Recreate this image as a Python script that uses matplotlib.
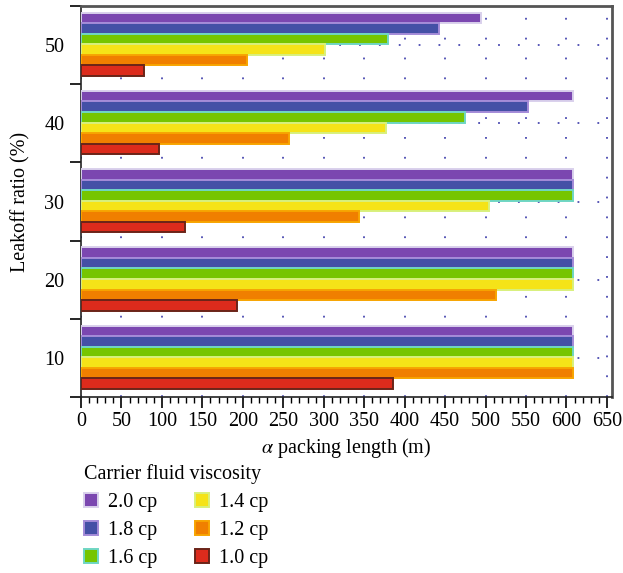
import numpy as np
import matplotlib
matplotlib.use('Agg')
import matplotlib.pyplot as plt
from matplotlib.ticker import MultipleLocator

plt.rcParams['font.family'] = 'Liberation Serif'
plt.rcParams['mathtext.fontset'] = 'stix'

# data
leakoff = [10, 20, 30, 40, 50]
viscosity = ['2.0 cp', '1.8 cp', '1.6 cp', '1.4 cp', '1.2 cp', '1.0 cp']
len_20 = [608, 608, 608, 608, 494]
len_18 = [608, 608, 608, 553, 443]
len_16 = [608, 608, 608, 475, 380]
len_14 = [608, 608, 504, 377, 302]
len_12 = [608, 513, 343, 257, 205]
len_10 = [385, 193, 129, 96, 78]

series = [len_20, len_18, len_16, len_14, len_12, len_10]
fill_colors = ['#7b47b0', '#4450a6', '#76c500', '#f5e318', '#f07f00', '#dc2b1c']
edge_colors = ['#d9d0ec', '#a48bd8', '#6fd6c4', '#d8f07c', '#f7a400', '#6a2418']

fs = 14.5
fig = plt.figure(figsize=(6.23, 5.73), dpi=100)
ax = fig.add_axes([0.130, 0.307, 0.852, 0.6825])

h = 1.35
for i, vals in enumerate(series):
    off = (2.5 - i) * h + 0.1
    ax.barh(np.array(leakoff) + off, vals, height=h, color=fill_colors[i],
            edgecolor=edge_colors[i], linewidth=1.4, label=viscosity[i], zorder=3)

ax.set_xlim(0, 656)
ax.set_ylim(5, 55)
ax.xaxis.set_major_locator(MultipleLocator(50))
ax.xaxis.set_minor_locator(MultipleLocator(10))
ax.set_yticks(leakoff)
ax.set_yticks([5, 15, 25, 35, 45, 55], minor=True)
ax.tick_params(axis='x', which='major', direction='out', length=8, width=1.2, labelsize=fs, pad=3)
ax.tick_params(axis='x', which='minor', direction='out', length=4, width=1)
ax.tick_params(axis='y', which='major', direction='in', length=3, width=1, labelsize=fs, pad=12)
ax.tick_params(axis='y', which='minor', direction='out', length=8, width=1.2)

ax.grid(True, which='major', color='#4a4ab0', linestyle=(0, (1, 10)), linewidth=1.3, zorder=0)
ax.set_axisbelow(True)

for s in ['left', 'bottom']:
    ax.spines[s].set_color('#222222')
    ax.spines[s].set_linewidth(1.2)
for s in ['top', 'right']:
    ax.spines[s].set_color('#555555')
    ax.spines[s].set_linewidth(2)

ax.set_xlabel(r'$\alpha$ packing length (m)', fontsize=fs, labelpad=3)
ax.set_ylabel('Leakoff ratio (%)', fontsize=fs, labelpad=10)

leg = fig.legend(loc='upper left', bbox_to_anchor=(0.118, 0.208), ncol=2,
                 frameon=False, fontsize=fs, title='Carrier fluid viscosity',
                 title_fontsize=fs, handlelength=0.7, handleheight=0.7,
                 handletextpad=0.5, columnspacing=1.9, labelspacing=0.45,
                 alignment='left', borderpad=0)

fig.savefig('out.png', dpi=100)
